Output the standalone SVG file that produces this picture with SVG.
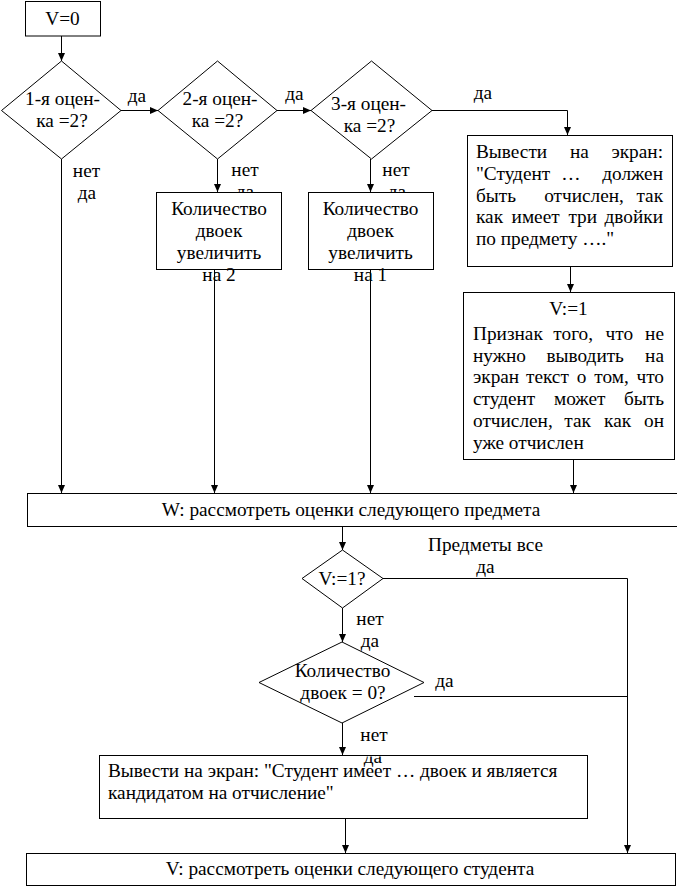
<svg xmlns="http://www.w3.org/2000/svg" width="677" height="886" viewBox="0 0 677 886">
<style>
text{font-family:"Liberation Serif","Times New Roman",serif;font-size:19.3px;fill:#000}
.m{text-anchor:middle}
.e{text-anchor:end}
.n{fill:#fff;stroke:#000;stroke-width:1}
.nf{fill:none;stroke:#000;stroke-width:1}
.c{fill:none;stroke:#000;stroke-width:1}
.a{marker-end:url(#ah)}
</style>
<defs>
<marker id="ah" markerWidth="8" markerHeight="8" refX="8" refY="4" orient="auto" markerUnits="userSpaceOnUse"><path d="M0,0.5 L8,4 L0,7.5 z" fill="#000"/></marker>
<clipPath id="cl1"><rect x="340" y="756.5" width="80" height="20"/></clipPath>
</defs>

<g id="connectors">
<line class="c a" x1="61.5" y1="36" x2="61.5" y2="61"/>
<line class="c a" x1="121" y1="110.5" x2="158" y2="110.5"/>
<line class="c a" x1="277" y1="110.5" x2="311" y2="110.5"/>
<polyline class="c a" points="432,110.5 567.5,110.5 567.5,135"/>
<line class="c a" x1="61.5" y1="159" x2="61.5" y2="493"/>
<line class="c a" x1="217.5" y1="159" x2="217.5" y2="192"/>
<line class="c a" x1="370.5" y1="159" x2="370.5" y2="192"/>
<line class="c a" x1="214.5" y1="270" x2="214.5" y2="493"/>
<line class="c a" x1="370.5" y1="270" x2="370.5" y2="493"/>
<line class="c a" x1="570.5" y1="266" x2="570.5" y2="292"/>
<line class="c a" x1="573.5" y1="460" x2="573.5" y2="493"/>
<line class="c a" x1="342.5" y1="527" x2="342.5" y2="550"/>
<polyline class="c a" points="383,578.5 627.5,578.5 627.5,853"/>
<line class="c a" x1="342.5" y1="608" x2="342.5" y2="642"/>
<line class="c" x1="414" y1="696.5" x2="627.5" y2="696.5"/>
<line class="c a" x1="342.5" y1="723" x2="342.5" y2="755"/>
<line class="c a" x1="345.5" y1="819" x2="345.5" y2="853"/>
<g id="labels">
<text class="m" x="137" y="102">да</text>
<text class="m" x="294.5" y="100">да</text>
<text class="m" x="483" y="99">да</text>
<text class="m" x="86.5" y="177">нет</text>
<text class="m" x="87" y="199">да</text>
<text class="m" x="245" y="176">нет</text>
<text class="m" x="245" y="198">да</text>
<text class="m" x="396" y="176">нет</text>
<text class="m" x="397" y="198">да</text>
<text class="m" x="485.5" y="551">Предметы все</text>
<text class="m" x="485.5" y="573">да</text>
<text class="m" x="370" y="625">нет</text>
<text class="m" x="370" y="647">да</text>
<text class="m" x="444.5" y="687">да</text>
<text class="m" x="374" y="741">нет</text>
<text class="m" x="373" y="763" clip-path="url(#cl1)">да</text>
</g>
</g>

<g id="n-v0">
<rect class="n" x="25.5" y="1.5" width="75" height="34.5"/>
<text class="m" x="62.5" y="25">V=0</text>
</g>

<g id="n-d1">
<polygon class="n" points="61.5,61 121,110.5 61.5,159 1.5,110.5"/>
<text class="m" x="62.5" y="105">1-я оцен-</text>
<text class="m" x="62" y="127">ка =2?</text>
</g>

<g id="n-d2">
<polygon class="n" points="217.5,61 277,110.5 217.5,159 158,110.5"/>
<text class="m" x="220" y="105">2-я оцен-</text>
<text class="m" x="217.5" y="127">ка =2?</text>
</g>

<g id="n-d3">
<polygon class="n" points="371.5,61 432,110.5 371.5,159 311,110.5"/>
<text class="m" x="368.5" y="110">3-я оцен-</text>
<text class="m" x="369.5" y="132">ка =2?</text>
</g>

<g id="n-box1">
<rect class="n" x="156.5" y="192.5" width="125" height="77"/>
<text class="m" x="219" y="215">Количество</text>
<text class="m" x="219" y="237">двоек</text>
<text class="m" x="219" y="259">увеличить</text>
<text class="m" x="219" y="281">на 2</text>
</g>

<g id="n-box2">
<rect class="n" x="308.5" y="192.5" width="125" height="77"/>
<text class="m" x="370.5" y="215">Количество</text>
<text class="m" x="370.5" y="237">двоек</text>
<text class="m" x="370.5" y="259">увеличить</text>
<text class="m" x="370.5" y="281">на 1</text>
</g>

<g id="n-out3">
<rect class="n" x="467.5" y="135.5" width="205" height="131"/>
<text x="476" y="158">Вывести</text>
<text class="m" x="579.4" y="158">на</text>
<text class="e" x="663" y="158">экран:</text>
<text x="476" y="180">"Студент</text>
<text class="m" x="571" y="180">…</text>
<text class="e" x="663" y="180">должен</text>
<text x="476" y="201.5">быть</text>
<text class="m" x="584" y="201.5">отчислен,</text>
<text class="e" x="663" y="201.5">так</text>
<text x="476" y="223.3">как</text>
<text class="m" x="535.6" y="223.3">имеет</text>
<text class="m" x="582.7" y="223.3">три</text>
<text class="e" x="663" y="223.3">двойки</text>
<text x="476" y="245">по предмету …."</text>
</g>

<g id="n-v1">
<rect class="n" x="463.5" y="292.5" width="211" height="167"/>
<text class="m" x="568.5" y="315">V:=1</text>
<text x="473" y="340">Признак</text>
<text class="m" x="573.2" y="340">того,</text>
<text class="m" x="619.3" y="340">что</text>
<text class="e" x="664" y="340">не</text>
<text x="473" y="361.7">нужно</text>
<text class="m" x="585.2" y="361.7">выводить</text>
<text class="e" x="664" y="361.7">на</text>
<text x="473" y="383.4">экран</text>
<text class="m" x="547.4" y="383.4">текст</text>
<text class="m" x="581.6" y="383.4">о</text>
<text class="m" x="611.5" y="383.4">том,</text>
<text class="e" x="664" y="383.4">что</text>
<text x="473" y="405.1">студент</text>
<text class="m" x="579.7" y="405.1">может</text>
<text class="e" x="664" y="405.1">быть</text>
<text x="473" y="426.8">отчислен,</text>
<text class="m" x="577.6" y="426.8">так</text>
<text class="m" x="617.6" y="426.8">как</text>
<text class="e" x="664" y="426.8">он</text>
<text x="473" y="448.5">уже отчислен</text>
</g>

<g id="n-w">
<rect class="n" x="27.5" y="493.5" width="651" height="33"/>
<text class="m" x="351" y="516">W: рассмотреть оценки следующего предмета</text>
</g>

<g id="n-dv">
<polygon class="n" points="342.5,550 383,578.5 342.5,608 302,578.5"/>
<text class="m" x="342" y="585">V:=1?</text>
</g>

<g id="n-dk">
<polygon class="n" points="342,642 424,682.5 342,723 259,682.5"/>
<text class="m" x="342.5" y="677">Количество</text>
<text class="m" x="343" y="699">двоек = 0?</text>
</g>

<g id="n-out2">
<rect class="nf" x="99.5" y="755.5" width="488" height="63"/>
<text x="108" y="777">Вывести на экран: "Студент имеет … двоек и является</text>
<text x="108" y="799">кандидатом на отчисление"</text>
</g>

<g id="n-next">
<rect class="n" x="26.5" y="853.5" width="649" height="32"/>
<text class="m" x="350" y="875">V: рассмотреть оценки следующего студента</text>
</g>
</svg>
